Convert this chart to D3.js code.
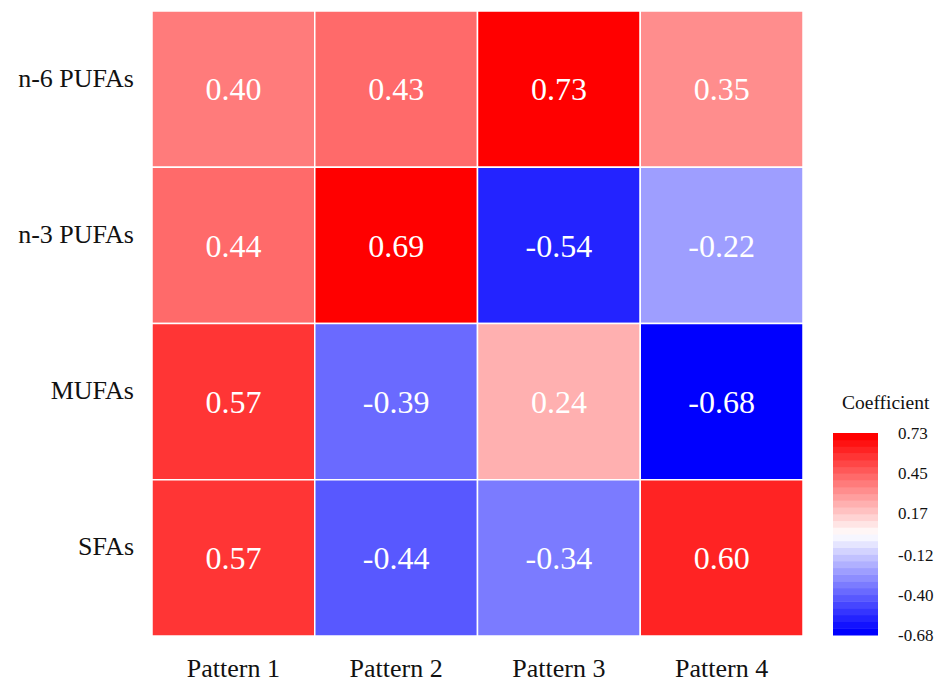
<!DOCTYPE html>
<html>
<head>
<meta charset="utf-8">
<script src="https://cdn.jsdelivr.net/npm/d3@7"></script>
<style>
  body { margin: 0; background: #fff; }
  svg { display: block; font-family: "Liberation Serif", "Times New Roman", serif; }
</style>
</head>
<body>
<svg id="chart" width="938" height="684"></svg>
<script>
// data
var patterns = ["Pattern 1", "Pattern 2", "Pattern 3", "Pattern 4"];
var fats = ["n-6 PUFAs", "n-3 PUFAs", "MUFAs", "SFAs"];
var n6Values = [0.40, 0.43, 0.73, 0.35];
var n3Values = [0.44, 0.69, -0.54, -0.22];
var mufaValues = [0.57, -0.39, 0.24, -0.68];
var sfaValues = [0.57, -0.44, -0.34, 0.60];
var legendTicks = [0.73, 0.45, 0.17, -0.12, -0.40, -0.68];

var rows = [n6Values, n3Values, mufaValues, sfaValues];
var cells = [];
rows.forEach(function (r, i) {
    r.forEach(function (v, j) {
        cells.push({ fat: fats[i], pattern: patterns[j], value: v });
    });
});

var svg = d3.select("#chart");
var margin = { top: 11, left: 152, right: 135, bottom: 48 };
var width = 938 - margin.left - margin.right;
var height = 684 - margin.top - margin.bottom;

// blue-white-red palette, binned (30 steps)
var vMin = d3.min(legendTicks), vMax = d3.max(legendTicks);
var nBands = 30;
var ramp = d3.scaleLinear()
    .domain([0, 0.5, 1])
    .range(["#0000ff", "#ffffff", "#ff0000"]);
var palette = d3.range(nBands).map(function (i) { return ramp(i / (nBands - 1)); });
var color = d3.scaleQuantize().domain([vMin, vMax]).range(palette);

var x = d3.scaleBand().domain(patterns).range([0, width]);
var y = d3.scaleBand().domain(fats).range([0, height]);

var g = svg.append("g").attr("transform", "translate(" + margin.left + "," + margin.top + ")");

g.selectAll("rect.cell")
    .data(cells)
    .enter().append("rect")
    .attr("class", "cell")
    .attr("x", function (d) { return x(d.pattern); })
    .attr("y", function (d) { return y(d.fat); })
    .attr("width", x.bandwidth())
    .attr("height", y.bandwidth())
    .attr("fill", function (d) { return color(d.value); })
    .attr("stroke", "#fff")
    .attr("stroke-width", 1.5);

g.selectAll("text.val")
    .data(cells)
    .enter().append("text")
    .attr("class", "val")
    .attr("x", function (d) { return x(d.pattern) + x.bandwidth() / 2; })
    .attr("y", function (d) { return y(d.fat) + y.bandwidth() / 2; })
    .attr("dy", "0.35em")
    .attr("text-anchor", "middle")
    .attr("fill", "#fff")
    .style("font-size", "32px")
    .text(function (d) { return d.value.toFixed(2); });

// axes
var xAxis = g.append("g")
    .attr("transform", "translate(0," + height + ")")
    .call(d3.axisBottom(x).tickSize(0).tickPadding(23));
var yAxis = g.append("g")
    .call(d3.axisLeft(y).tickSize(0).tickPadding(18));
[xAxis, yAxis].forEach(function (a) {
    a.select(".domain").remove();
    a.selectAll("text")
        .style("font-size", "26px")
        .style("font-family", "Liberation Serif, Times New Roman, serif")
        .attr("fill", "#111");
});
yAxis.selectAll("text").attr("dy", "-0.1em");

// legend
var legX = 833, legY = 433, legW = 45, legH = 202;
var ly = d3.scaleLinear().domain([vMin, vMax]).range([legY + legH, legY]);
var step = legH / nBands;
svg.append("g").selectAll("rect")
    .data(palette)
    .enter().append("rect")
    .attr("x", legX)
    .attr("y", function (d, i) { return legY + legH - (i + 1) * step; })
    .attr("width", legW)
    .attr("height", step + 0.5)
    .attr("fill", function (d) { return d; });

svg.append("text")
    .attr("x", 842)
    .attr("y", 409)
    .style("font-size", "19.5px")
    .attr("fill", "#111")
    .text("Coefficient");

var legAxis = svg.append("g")
    .attr("transform", "translate(" + (legX + legW) + ",0)")
    .call(d3.axisRight(ly).tickValues(legendTicks).tickSize(0).tickPadding(20)
        .tickFormat(function (d) { return d.toFixed(2); }));
legAxis.select(".domain").remove();
legAxis.selectAll("text")
    .style("font-size", "17px")
    .style("font-family", "Liberation Serif, Times New Roman, serif")
    .attr("fill", "#111");
</script>
</body>
</html>
